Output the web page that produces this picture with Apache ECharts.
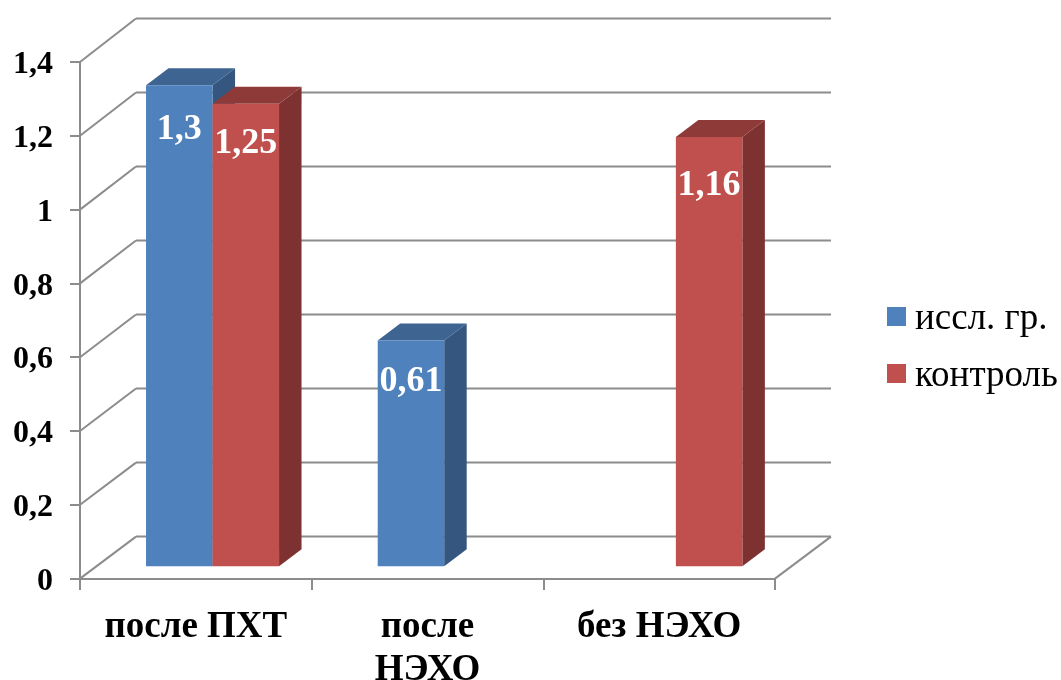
<!DOCTYPE html>
<html>
<head>
<meta charset="utf-8">
<style>html,body{margin:0;padding:0;background:#fff}#c{width:1061px;height:680px}</style>
<script src="https://cdn.jsdelivr.net/npm/echarts@6/dist/echarts.min.js"></script>
</head>
<body>
<div id="c"></div>
<script>
var categories = ['после ПХТ', 'после\nНЭХО', 'без НЭХО'];
var seriesNames = ['иссл. гр.', 'контроль'];
var studyValues = [1.3, 0.61, null];
var controlValues = [1.25, null, 1.16];
var yTicks = [0, 0.2, 0.4, 0.6, 0.8, 1, 1.2, 1.4];

var FONT = '"Liberation Serif", serif';
var GRID_COLOR = '#8c8c8c';
var WALL_DX = 56, WALL_DY = -42, DEPTH_SCALE = 1.003;
var BAR_W = 66.5, BAR_DX = 22.5, BAR_DY = -17, FLOOR_LIFT = 12.3;
var LABEL_DROP = {study: [45, 41], control: [40, null, 49]};

function fmt(v) { return String(v).replace('.', ','); }

function wallItem(params, api) {
  var cs = params.coordSys;
  var y = api.coord([0, api.value(1)])[1];
  var y0 = api.coord([0, 0])[1];
  var yBack = y0 + WALL_DY - (y0 - y) * DEPTH_SCALE;
  var x0 = cs.x, x1 = cs.x + cs.width;
  var lineStyle = {stroke: GRID_COLOR, lineWidth: 2, fill: null};
  var kids = [
    {type: 'line', shape: {x1: x0, y1: y, x2: x0 + WALL_DX, y2: yBack}, style: lineStyle},
    {type: 'line', shape: {x1: x0 + WALL_DX, y1: yBack, x2: x1 + WALL_DX, y2: yBack}, style: lineStyle}
  ];
  if (api.value(1) === 0) {
    kids.push({type: 'line', shape: {x1: x1, y1: y, x2: x1 + WALL_DX, y2: yBack}, style: lineStyle});
  }
  return {type: 'group', children: kids};
}

function barRenderer(offset, front, top, side, drops) {
  return function (params, api) {
    var v = api.value(1);
    if (v == null || isNaN(v)) return null;
    var idx = api.value(0);
    var p = api.coord([idx, v]);
    var base = api.coord([idx, 0]);
    var xL = p[0] + offset, xR = xL + BAR_W;
    var yB = base[1] - FLOOR_LIFT, yT = yB - (base[1] - p[1]) * DEPTH_SCALE;
    var dx = BAR_DX, dy = BAR_DY;
    return {type: 'group', children: [
      {type: 'polygon', shape: {points: [[xR, yT], [xR + dx, yT + dy], [xR + dx, yB + dy], [xR, yB]]}, style: {fill: side}},
      {type: 'polygon', shape: {points: [[xL, yT], [xL + dx, yT + dy], [xR + dx, yT + dy], [xR, yT]]}, style: {fill: top}},
      {type: 'rect', shape: {x: xL, y: yT, width: BAR_W, height: yB - yT}, style: {fill: front}},
      {type: 'text', x: (xL + xR) / 2, y: yT + drops[idx], style: {
        text: fmt(v), fill: '#fff', font: 'bold 36px ' + FONT, textAlign: 'center', textVerticalAlign: 'middle'
      }}
    ]};
  };
}

function pairs(arr) { return arr.map(function (v, i) { return [i, v]; }); }

var chart = echarts.init(document.getElementById('c'), null, {renderer: 'canvas'});
chart.setOption({
  animation: false,
  backgroundColor: '#fff',
  grid: {left: 80, top: 62, width: 695, height: 516.6, containLabel: false, outerBoundsMode: 'none'},
  legend: {
    orient: 'vertical', left: 887, top: 294, padding: 0, itemWidth: 19, itemHeight: 19, itemGap: 12,
    icon: 'rect', selectedMode: false, data: seriesNames,
    formatter: '{a|{name}}',
    textStyle: {
      fontFamily: FONT, fontSize: 37, lineHeight: 45, color: '#000',
      rich: {a: {fontFamily: FONT, fontSize: 37, lineHeight: 45, color: '#000', padding: [6, 0, 0, 4]}}
    }
  },
  xAxis: {
    type: 'category', data: categories, boundaryGap: true,
    axisLine: {show: true, lineStyle: {color: GRID_COLOR, width: 2}},
    axisTick: {show: true, length: 11.5, lineStyle: {color: GRID_COLOR, width: 2}},
    axisLabel: {interval: 0, margin: 27, fontFamily: FONT, fontSize: 37, fontWeight: 'bold', color: '#000', lineHeight: 43, verticalAlign: 'top'},
    splitLine: {show: false}
  },
  yAxis: {
    type: 'value', min: 0, max: 1.4, interval: 0.2,
    axisLine: {show: true, lineStyle: {color: GRID_COLOR, width: 2}},
    axisTick: {show: true, length: 10, lineStyle: {color: GRID_COLOR, width: 2}},
    axisLabel: {margin: 27, verticalAlign: 'top', lineHeight: 6, fontFamily: FONT, fontSize: 32, fontWeight: 'bold', color: '#000', formatter: fmt},
    splitLine: {show: false}
  },
  series: [
    {type: 'custom', name: 'wall', silent: true, clip: false, z: 1, encode: {x: 0, y: 1},
     data: yTicks.map(function (t) { return [0, t]; }), renderItem: wallItem},
    {type: 'custom', name: seriesNames[0], clip: false, z: 2, encode: {x: 0, y: 1},
     itemStyle: {color: '#4F81BD'}, data: pairs(studyValues),
     renderItem: barRenderer(-49.8, '#4F81BD', '#3E6592', '#34567F', LABEL_DROP.study)},
    {type: 'custom', name: seriesNames[1], clip: false, z: 3, encode: {x: 0, y: 1},
     itemStyle: {color: '#C0504D'}, data: pairs(controlValues),
     renderItem: barRenderer(16.7, '#C0504D', '#8E3A38', '#7D3231', LABEL_DROP.control)}
  ]
});
</script>
</body>
</html>
